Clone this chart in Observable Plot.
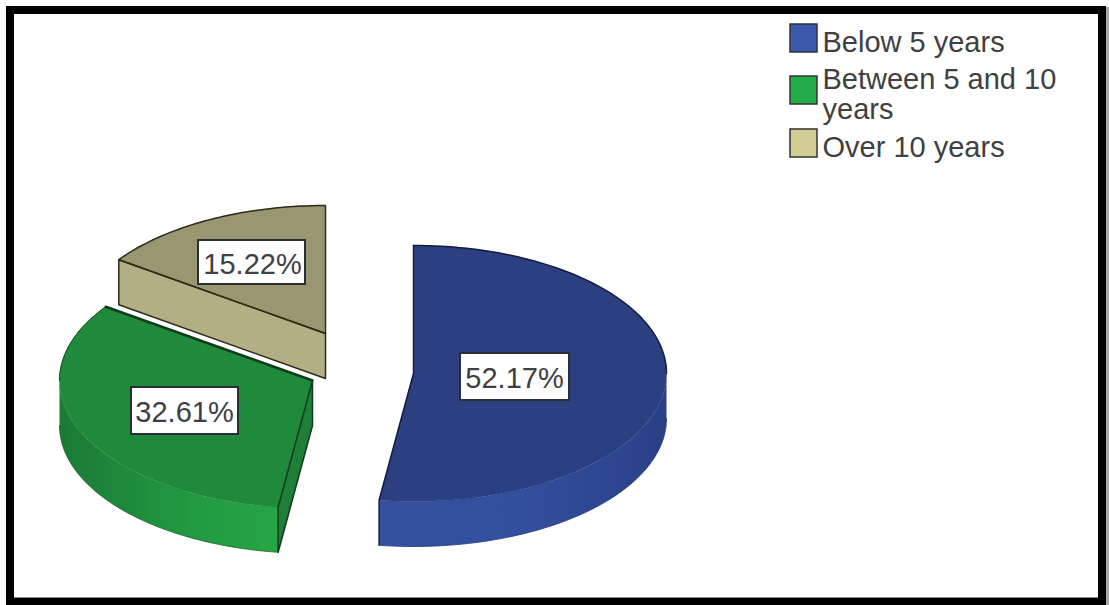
<!DOCTYPE html>
<html>
<head>
<meta charset="utf-8">
<style>html,body{margin:0;padding:0;background:#fff;overflow:hidden}svg{display:block}</style>
<script src="https://cdn.jsdelivr.net/npm/d3@7"></script>
<script src="https://cdn.jsdelivr.net/npm/@observablehq/plot@0.6"></script>
</head>
<body>
<div id="chart"></div>
<script>
// Share of respondents by length of service
const categories = ["Below 5 years", "Between 5 and 10\nyears", "Over 10 years"];
const shares = [52.17, 32.61, 15.22];

// Colours per slice
const swatchColors = ["#3a58ad", "#22ad48", "#d2cd97"];
const topColors = ["#2c3f80", "#1f8a3b", "#9b9672"];
const sideColors = ["#2f4a98", "#1f7f38", "#b3ae84"];
const edgeColors = ["#141d40", "#0d3d1a", "#2e2b18"];

// Exploded pie layout: apex of each slice, ellipse radii and wall depth
const apexX = [413, 312, 325];
const apexY = [373, 380, 333];
const radiusX = 253, radiusY = 128, depth = 45;

const width = 1109, height = 605;
const angles = d3.pie().sort(null).value(d => d)(shares);

// Point on a slice's rim, at a given angle clockwise from twelve o'clock
const rim = (i, a, drop = 0) => ({
  x: apexX[i] + radiusX * Math.sin(a),
  y: apexY[i] - radiusY * Math.cos(a) + drop
});
const arc = (i, a0, a1, drop = 0) =>
  d3.range(0, 61).map(k => rim(i, a0 + (a1 - a0) * k / 60, drop));
const apex = (i, drop = 0) => ({x: apexX[i], y: apexY[i] + drop});

const topFace = i => [apex(i), ...arc(i, angles[i].startAngle, angles[i].endAngle), apex(i)];
const wall = (i, a0, a1) => [...arc(i, a0, a1), ...arc(i, a1, a0, depth)];
const cutFace = (i, a) => [apex(i), rim(i, a), rim(i, a, depth), apex(i, depth), apex(i)];

const xy = {x: "x", y: "y", curve: "linear"};
const fillShape = (points, fill, extra = {}) =>
  Plot.line(points, {...xy, fill, stroke: fill, strokeWidth: 0.5, ...extra});
const edge = (points, stroke, strokeWidth = 1.5) =>
  Plot.line(points, {...xy, stroke, strokeWidth, fill: "none"});

// Soft shading along the curved walls
const gradients = () => {
  const defs = d3.create("svg:defs");
  const add = (id, x1, x2, stops) => {
    const g = defs.append("linearGradient").attr("id", id)
      .attr("gradientUnits", "userSpaceOnUse")
      .attr("x1", x1).attr("x2", x2).attr("y1", 0).attr("y2", 0);
    stops.forEach(([o, c]) => g.append("stop").attr("offset", o).attr("stop-color", c));
  };
  add("blueWall", 380, 666, [[0, "#34509f"], [0.45, "#33509f"], [1, "#2a4088"]]);
  add("greenWall", 60, 278, [[0, "#1b7a36"], [0.6, "#219a40"], [1, "#26a644"]]);
  return defs.node();
};

const right = Math.PI / 2, left = 3 * Math.PI / 2;
const [blue, green, tan] = angles;

// Label boxes sit at fixed spots on each slice
const boxes = [
  {x1: 460, x2: 569, y1: 353, y2: 400, base: 387, mid: 514},
  {x1: 131, x2: 238, y1: 387, y2: 434, base: 421, mid: 184},
  {x1: 198, x2: 305, y1: 240, y2: 284, base: 273, mid: 252}
];
const labels = shares.map((v, i) => ({...boxes[i], text: `${v.toFixed(2)}%`}));

// Legend rows
const legendRows = [
  {y1: 24, y2: 52, base: 51},
  {y1: 76, y2: 104, base: 118},
  {y1: 129, y2: 157, base: 156}
].map((r, i) => ({...r, text: categories[i], fill: swatchColors[i]}));

const font = "'Liberation Sans', Arial, sans-serif";
const ink = "#404042";

const chart = Plot.plot({
  width, height,
  margin: 0,
  style: {background: "#fff"},
  x: {domain: [0, width], range: [0, width], axis: null},
  y: {domain: [0, height], range: [0, height], axis: null},
  marks: [
    gradients,

    // Over 10 years
    fillShape(cutFace(2, tan.startAngle), sideColors[2]),
    fillShape(topFace(2), topColors[2]),
    edge(cutFace(2, tan.startAngle), edgeColors[2]),
    edge(topFace(2), edgeColors[2]),

    // Between 5 and 10 years
    fillShape(wall(1, green.startAngle, left), "url(#greenWall)", {stroke: "none"}),
    fillShape(cutFace(1, green.startAngle), sideColors[1]),
    fillShape(topFace(1), topColors[1]),
    edge(arc(1, green.startAngle, left, depth), "#14602b", 0.8),
    edge(cutFace(1, green.startAngle), edgeColors[1]),
    edge([apex(1), rim(1, green.endAngle)], edgeColors[1], 2.5),
    edge(arc(1, left, green.endAngle), edgeColors[1], 1),

    // Below 5 years
    fillShape(wall(0, right, blue.endAngle), "url(#blueWall)", {stroke: "none"}),
    fillShape(topFace(0), topColors[0]),
    edge([rim(0, 0), apex(0), rim(0, blue.endAngle), rim(0, blue.endAngle, depth)], edgeColors[0]),
    edge(arc(0, 0, right), edgeColors[0]),
    edge(arc(0, right, blue.endAngle, depth), "#25387a", 0.8),

    // Value labels
    Plot.rect(labels, {x1: "x1", x2: "x2", y1: "y1", y2: "y2", fill: "#fff", stroke: "#2a2f33", strokeWidth: 2}),
    Plot.text(labels, {
      x: "mid", y: "base", text: "text", lineAnchor: "bottom",
      fontFamily: font, fontSize: 29, fill: ink
    }),

    // Legend
    Plot.rect(legendRows, {x1: () => 790, x2: () => 817, y1: "y1", y2: "y2", fill: "fill", stroke: "#333", strokeWidth: 1.5}),
    Plot.text(legendRows, {
      x: () => 822, y: "base", text: "text", lineAnchor: "bottom", textAnchor: "start",
      lineHeight: 1.03, fontFamily: font, fontSize: 29, fill: ink
    }),

    // Heavy outer border with its thin grey shadow
    Plot.rect([0], {x1: () => 10, x2: () => 1102, y1: () => 10, y2: () => 602, fill: "none", stroke: "#000", strokeWidth: 8}),
    Plot.rect([0], {x1: () => 1106, x2: () => 1109, y1: () => 7, y2: () => 605, fill: "#a8a8a8"}),
    Plot.rect([0], {x1: () => 14, x2: () => 1098, y1: () => 597, y2: () => 598, fill: "#8c8c8c"})
  ]
});
document.getElementById("chart").append(chart);
</script>
</body>
</html>
